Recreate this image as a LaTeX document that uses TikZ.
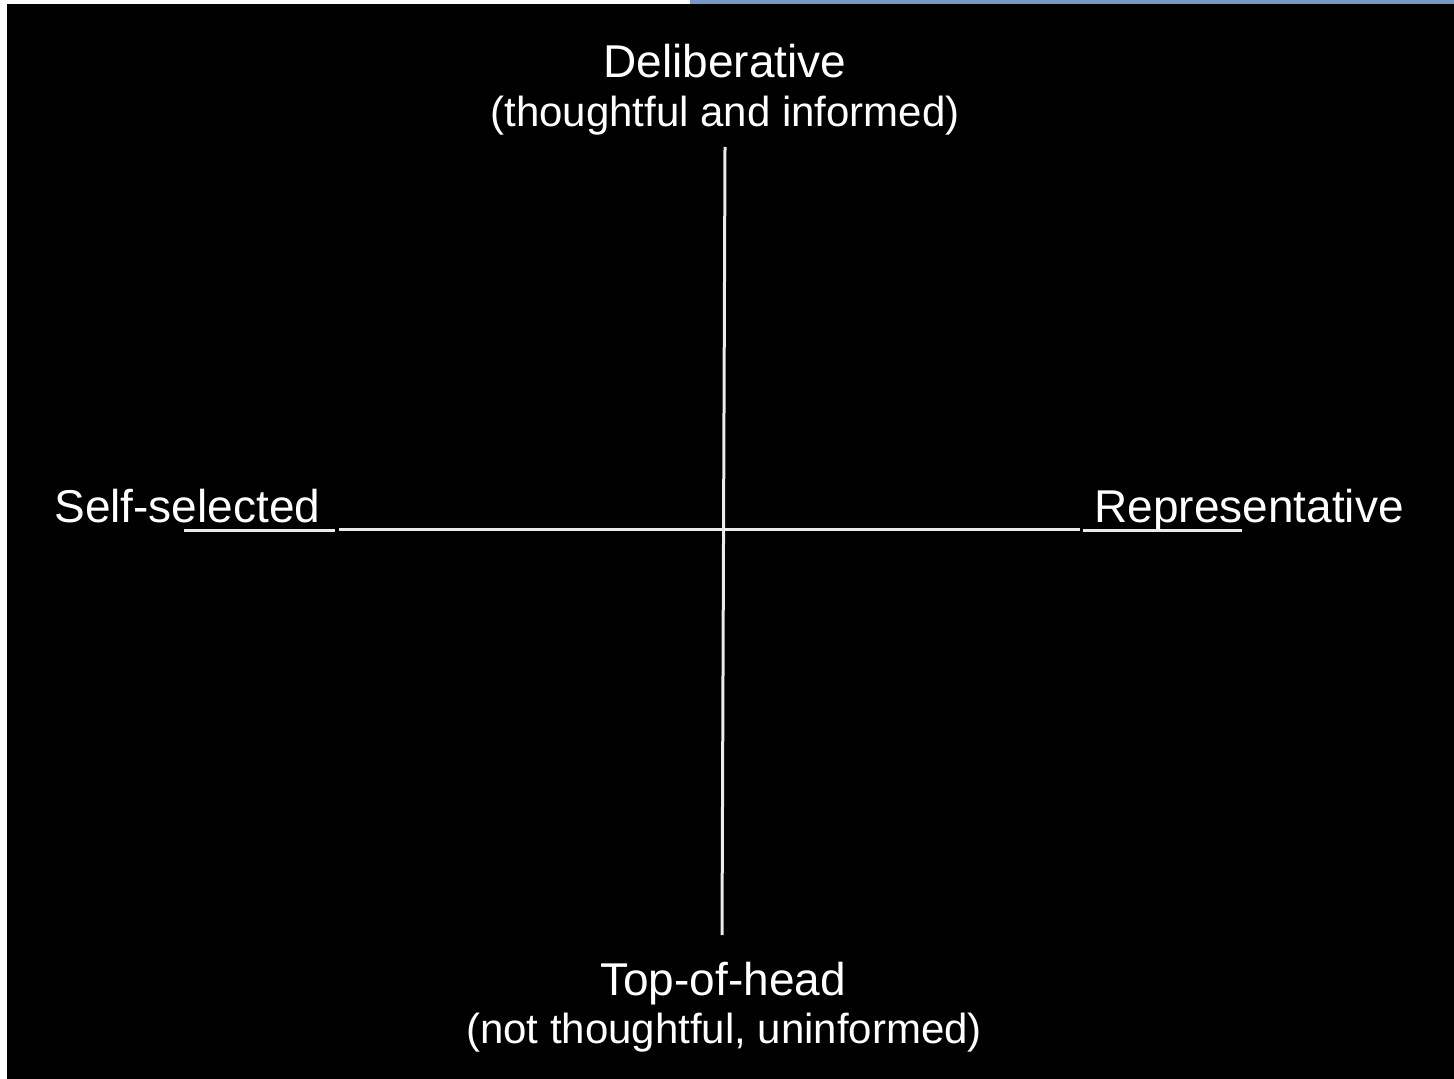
\documentclass[tikz,border=0pt]{standalone}
\usepackage{fontspec}
\setmainfont{Liberation Sans}
\definecolor{stripblue}{RGB}{122,152,196}
\begin{document}
\begin{tikzpicture}[x=0.5pt,y=-0.5pt,
  lbl/.style={text=white,font=\fontsize{23}{27}\selectfont,inner sep=0pt,anchor=base},
  sublbl/.style={lbl,font=\fontsize{21}{25}\selectfont},
  axis/.style={draw=white!92!black,line width=1.5pt}]
\useasboundingbox (0,0) rectangle (1454,1079);
\fill[white] (0,0) rectangle (1454,1079);
\fill[black] (7,4) rectangle (1454,1079);
\fill[stripblue] (690,0) rectangle (1454,4);
% labels
\node[lbl] (delib) at (725,78) {Deliberative};
\node[sublbl] (delibsub) at (725,127) {(thoughtful and informed)};
\node[lbl] (top) at (723,995) {Top-of-head};
\node[sublbl] (topsub) at (724,1043) {(not thoughtful, uninformed)};
\node[lbl,anchor=base west] (self) at (54,522) {Self-selected};
\node[lbl,anchor=base west] (rep) at (1094,522) {Representative};
% axes
\coordinate (vtop) at (725,147);
\coordinate (vbot) at (722,935);
\coordinate (h1a) at (184,530); \coordinate (h1b) at (335,530);
\coordinate (h2a) at (339,529); \coordinate (h2b) at (1080,529);
\coordinate (h3a) at (1083,530); \coordinate (h3b) at (1242,530);
\draw[axis] (vtop) -- (vbot);
\draw[axis] (h1a) -- (h1b);
\draw[axis] (h2a) -- (h2b);
\draw[axis] (h3a) -- (h3b);
\end{tikzpicture}
\end{document}
